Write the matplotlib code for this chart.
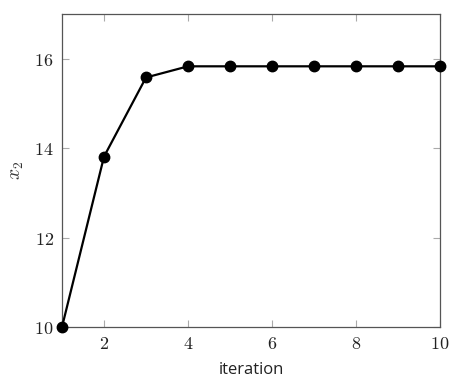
import matplotlib
matplotlib.use("Agg")
import matplotlib.pyplot as plt

iterations = [1, 2, 3, 4, 5, 6, 7, 8, 9, 10]
x2_values = [10.0, 13.81, 15.58, 15.83, 15.83, 15.83, 15.83, 15.83, 15.83, 15.83]
xticks = [2, 4, 6, 8, 10]
yticks = [10, 12, 14, 16]

plt.rcParams['mathtext.fontset'] = 'cm'

fig = plt.figure(figsize=(4.54, 3.77), dpi=100)
ax = fig.add_axes([62/454, 1-327/377, (440-62)/454, (327-14)/377])
ax.plot(iterations, x2_values, color='black', lw=1.6, marker='o', markersize=7.5, clip_on=False, zorder=5)
ax.set_xlim(1, 10)
ax.set_ylim(10, 17)
ax.set_xticks(xticks)
ax.set_yticks(yticks)
ax.set_xticklabels([f'${t}$' for t in xticks], fontsize=13)
ax.set_yticklabels([f'${t}$' for t in yticks], fontsize=13)
ax.tick_params(direction='in', length=5, width=0.8, color='#aaaaaa', top=True, right=True, labelcolor='#222222', pad=6)
for s in ax.spines.values():
    s.set_color('#555555')
    s.set_linewidth(0.9)
ax.set_xlabel('iteration', fontsize=12, family='Open Sans', color='#222222', labelpad=6)
ax.set_ylabel('$x_2$', fontsize=14, color='#333333', labelpad=6)
fig.savefig('out.png', dpi=100)
